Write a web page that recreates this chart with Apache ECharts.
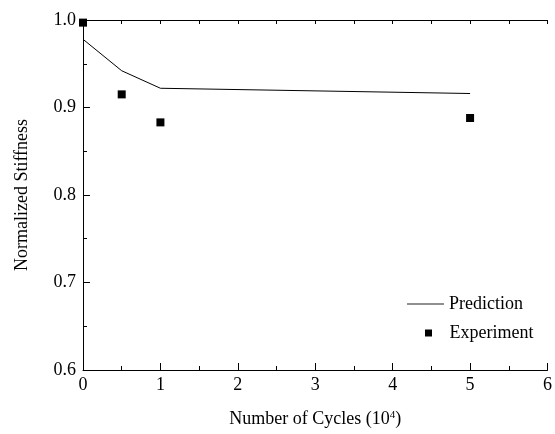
<!DOCTYPE html>
<html>
<head>
<meta charset="utf-8">
<script src="https://cdn.jsdelivr.net/npm/echarts@6/dist/echarts.min.js"></script>
<style>html,body{margin:0;padding:0;background:#fff;}#c{width:555px;height:434px;}</style>
</head>
<body>
<div id="c"></div>
<script>
const predX = [0, 0.5, 1, 5];
const predY = [0.978, 0.942, 0.922, 0.916];
const expX = [0, 0.5, 1, 5];
const expY = [0.997, 0.915, 0.883, 0.888];
const seriesNames = ['Prediction', 'Experiment'];
const xTitle = 'Number of Cycles (10';
const xTitleSup = '4';
const yTitle = 'Normalized Stiffness';

const FONT = "'Liberation Serif', 'Times New Roman', serif";
const chart = echarts.init(document.getElementById('c'), null, {renderer: 'canvas'});
const black = '#000';
const option = {
  backgroundColor: '#fff',
  animation: false,
  grid: {left: 83, right: 1, top: 20, bottom: 64},
  legend: [
    {data: [{name: seriesNames[0], icon: 'rect'}], orient: 'vertical', left: 407, top: 295, padding: 0,
     itemWidth: 37, itemHeight: 1.2,
     itemStyle: {color: '#222'},
     textStyle: {fontFamily: FONT, fontSize: 18, color: black}},
    {data: [{name: seriesNames[1], icon: 'path://M0,0L10,0L10,10L0,10Z'}], orient: 'vertical', left: 425, top: 324, padding: 0,
     itemWidth: 32, itemHeight: 7, symbolKeepAspect: true,
     itemStyle: {color: black, opacity: 1},
     textStyle: {fontFamily: FONT, fontSize: 18, color: black}}
  ],
  xAxis: [
    {type: 'value', min: 0, max: 6, interval: 1, position: 'bottom',
     name: '{a|' + xTitle + '}{s|' + xTitleSup + '}{a|)}', nameLocation: 'middle', nameGap: 40,
     nameTextStyle: {fontFamily: FONT, fontSize: 18, color: black,
       rich: {a: {fontFamily: FONT, fontSize: 18, color: black},
              s: {fontFamily: FONT, fontSize: 11, color: black, verticalAlign: 'top'}}},
     axisLine: {show: true, lineStyle: {color: black, width: 1}},
     axisTick: {show: true, inside: true, length: 7, lineStyle: {color: black}},
     minorTick: {show: true, splitNumber: 2, length: 4, lineStyle: {color: black}},
     axisLabel: {fontFamily: FONT, fontSize: 18, color: black, margin: 6},
     splitLine: {show: false}},
    {type: 'value', min: 0, max: 6, interval: 1, position: 'top',
     axisLine: {show: true, lineStyle: {color: black, width: 1}},
     axisTick: {show: true, inside: true, length: 4, lineStyle: {color: black}},
     minorTick: {show: true, splitNumber: 2, length: 4, lineStyle: {color: black}},
     axisLabel: {show: false}, splitLine: {show: false}}
  ],
  yAxis: [
    {type: 'value', min: 0.6, max: 1.0, interval: 0.1, position: 'left',
     name: yTitle, nameLocation: 'middle', nameGap: 52, nameRotate: 90,
     nameTextStyle: {fontFamily: FONT, fontSize: 18, color: black},
     axisLine: {show: true, lineStyle: {color: black, width: 1}},
     axisTick: {show: true, inside: true, length: 7, lineStyle: {color: black}},
     minorTick: {show: true, splitNumber: 2, length: 4, lineStyle: {color: black}},
     axisLabel: {fontFamily: FONT, fontSize: 18, color: black, margin: 7, formatter: v => v.toFixed(1)},
     splitLine: {show: false}},
    {type: 'value', min: 0.6, max: 1.0, interval: 0.1, position: 'right',
     axisLine: {show: true, lineStyle: {color: black, width: 1}},
     axisTick: {show: false}, axisLabel: {show: false}, splitLine: {show: false}}
  ],
  series: [
    {name: seriesNames[0], type: 'line', data: predX.map((x, i) => [x, predY[i]]),
     showSymbol: false, symbol: 'none', lineStyle: {color: black, width: 1}, itemStyle: {color: black}},
    {name: seriesNames[1], type: 'scatter', data: expX.map((x, i) => [x, expY[i]]),
     symbol: 'rect', symbolSize: 8, itemStyle: {color: black, opacity: 1}, clip: true}
  ]
};
chart.setOption(option);
</script>
</body>
</html>
